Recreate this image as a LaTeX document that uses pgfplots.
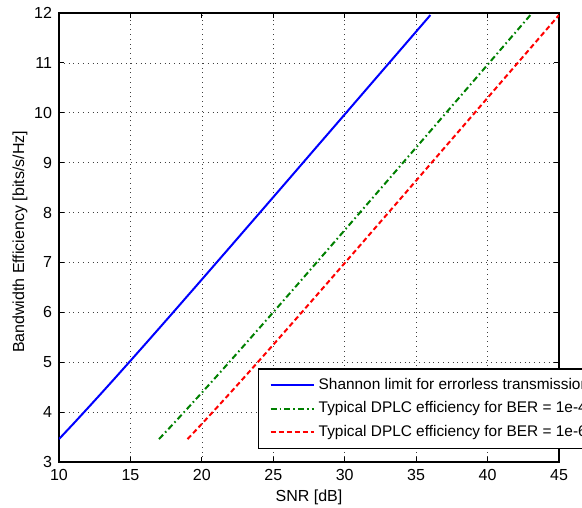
\documentclass[border=0pt]{standalone}
\usepackage{fontspec}
\setmainfont{Liberation Sans}
\usepackage{pgfplots}
\pgfplotsset{compat=1.18}
\definecolor{mblue}{RGB}{0,0,255}
\definecolor{mgreen}{RGB}{0,128,0}
\definecolor{mred}{RGB}{255,0,0}

\begin{document}
\begin{tikzpicture}
\begin{axis}[
  name=ax,
  scale only axis,
  width=250pt, height=224.5pt,
  xmin=10, xmax=45, ymin=3, ymax=12,
  xtick={10,15,...,45}, ytick={3,4,...,12},
  tick align=inside,
  major tick length=2.5pt,
  grid=major,
  grid style={black!75, dotted, line width=0.3pt},
  axis line style={line width=0.6pt},
  tick style={black, line width=0.4pt},
  /pgf/number format/assume math mode=true,
  ticklabel style={font=\fontsize{8}{9}\selectfont},
  xlabel={SNR [dB]},
  ylabel={Bandwidth Efficiency [bits/s/Hz]},
  label style={font=\fontsize{8}{9}\selectfont},
  xlabel style={at={(axis description cs:0.5,0)}, anchor=center, yshift=-17.5pt},
  ylabel style={at={(axis description cs:0,0.49)}, anchor=center, yshift=19.5pt},
  legend cell align=left,
  legend image code/.code={\draw[#1] (0pt,0pt) -- (21.5pt,0pt);},
  legend style={
    at={(axis description cs:0.398,0.209)}, anchor=north west,
    font=\fontsize{7.7}{9}\selectfont,
    draw=black, line width=0.7pt, fill=white,
    inner xsep=5.5pt, inner ysep=2.5pt, row sep=0.8pt,
  },
]
\addplot[mblue, line width=1pt] coordinates {
  (10,3.459) (11,3.764) (12,4.075) (13,4.389) (14,4.707) (15,5.028)
  (16,5.351) (17,5.676) (18,6.002) (19,6.330) (20,6.658) (21,6.988)
  (22,7.317) (23,7.648) (24,7.978) (25,8.309) (26,8.640) (27,8.972)
  (28,9.304) (29,9.635) (30,9.967) (31,10.299) (32,10.631) (33,10.963)
  (34,11.295) (35,11.627) (36,11.959)
};
\addlegendentry{Shannon limit for errorless transmission}
\addplot[mgreen, line width=1pt, dash pattern=on 3pt off 1.5pt on 0.8pt off 1.5pt] coordinates {
  (17,3.459) (18,3.764) (19,4.075) (20,4.389) (21,4.707) (22,5.028)
  (23,5.351) (24,5.676) (25,6.002) (26,6.330) (27,6.658) (28,6.988)
  (29,7.317) (30,7.648) (31,7.978) (32,8.309) (33,8.640) (34,8.972)
  (35,9.304) (36,9.635) (37,9.967) (38,10.299) (39,10.631) (40,10.963)
  (41,11.295) (42,11.627) (43,11.959)
};
\addlegendentry{Typical DPLC efficiency for BER = 1e-4}
\addplot[mred, line width=1pt, dash pattern=on 2.5pt off 1.5pt] coordinates {
  (19,3.459) (20,3.764) (21,4.075) (22,4.389) (23,4.707) (24,5.028)
  (25,5.351) (26,5.676) (27,6.002) (28,6.330) (29,6.658) (30,6.988)
  (31,7.317) (32,7.648) (33,7.978) (34,8.309) (35,8.640) (36,8.972)
  (37,9.304) (38,9.635) (39,9.967) (40,10.299) (41,10.631) (42,10.963)
  (43,11.295) (44,11.627) (45,11.959)
};
\addlegendentry{Typical DPLC efficiency for BER = 1e-6}
\end{axis}
\pgfresetboundingbox
\path[use as bounding box] ([xshift=-29.5pt,yshift=-23pt]ax.south west) rectangle ([xshift=11.5pt,yshift=6.5pt]ax.north east);
\end{tikzpicture}
\end{document}
